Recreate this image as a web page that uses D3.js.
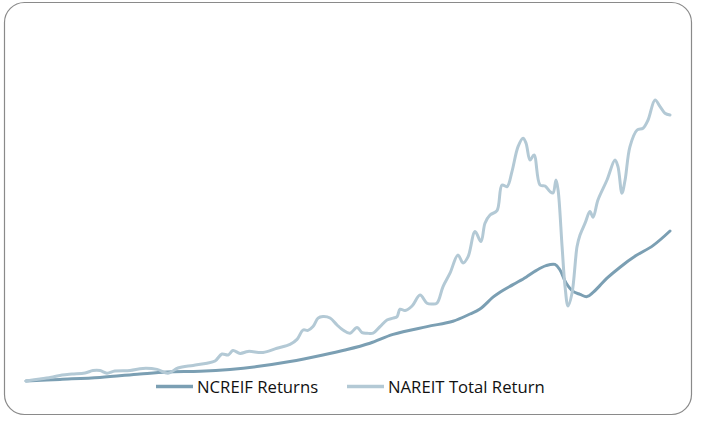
<!DOCTYPE html>
<html>
<head>
<meta charset="utf-8">
<script src="https://cdn.jsdelivr.net/npm/d3@7"></script>
<style>
  html, body { margin: 0; padding: 0; background: #ffffff; }
  svg { display: block; }
</style>
</head>
<body>
<svg id="chart" width="713" height="428"></svg>
<script>
// ---- Data (index values, start = 100) ----
const seriesNames = ["NCREIF Returns", "NAREIT Total Return"];

const ncreifYears = [1978.00, 1979.95, 1982.25, 1984.55, 1986.10, 1988.00, 1989.72, 1991.27, 1993.17, 1995.06,
  1996.33, 1997.76, 1999.09, 2001.04, 2002.53, 2003.51, 2004.08, 2004.83, 2005.23, 2005.98,
  2006.73, 2007.30, 2007.88, 2008.39, 2008.68, 2009.03, 2009.43, 2009.83, 2010.23, 2010.58,
  2010.98, 2011.38, 2012.13, 2013.05, 2014.02, 2015.00];
const ncreifValues = [100, 108, 118, 135, 145, 149, 158, 172, 197, 230,
  255, 289, 333, 372, 399, 435, 460, 519, 544, 582,
  619, 652, 677, 683, 655, 590, 548, 533, 522, 543,
  578, 614, 669, 727, 777, 850];

const nareitYears = [1978.00, 1978.80, 1979.55, 1980.07, 1980.64, 1981.39, 1981.85, 1982.25, 1982.65, 1983.11,
  1983.98, 1984.72, 1985.53, 1986.16, 1986.73, 1987.60, 1988.40, 1988.86, 1989.26, 1989.61,
  1989.89, 1990.30, 1990.76, 1991.62, 1992.42, 1993.17, 1993.57, 1993.92, 1994.20, 1994.49,
  1994.78, 1995.06, 1995.47, 1995.87, 1996.21, 1996.62, 1997.02, 1997.31, 1997.59, 1997.94,
  1998.34, 1998.74, 1999.09, 1999.32, 1999.49, 1999.78, 2000.18, 2000.64, 2001.04, 2001.33,
  2001.61, 2001.96, 2002.36, 2002.82, 2003.11, 2003.40, 2003.80, 2004.14, 2004.37, 2004.66,
  2005.06, 2005.35, 2005.64, 2005.92, 2006.27, 2006.56, 2006.73, 2006.96, 2007.19, 2007.53,
  2007.82, 2008.11, 2008.28, 2008.45, 2008.57, 2008.80, 2008.97, 2009.14, 2009.37, 2009.66,
  2009.83, 2010.12, 2010.40, 2010.58, 2010.86, 2011.38, 2011.84, 2012.01, 2012.24, 2012.42,
  2012.70, 2013.11, 2013.45, 2013.74, 2014.14, 2014.43, 2014.71, 2015.00];
const nareitValues = [100, 110, 120, 130, 135, 140, 152, 152, 139, 150,
  153, 163, 158, 139, 165, 178, 189, 200, 235, 230,
  252, 238, 248, 243, 264, 283, 308, 355, 353, 372,
  414, 422, 415, 380, 355, 339, 368, 342, 339, 339,
  372, 405, 414, 422, 459, 452, 475, 530, 489, 485,
  489, 572, 639, 730, 690, 722, 847, 797, 889, 930,
  952, 1080, 1072, 1147, 1272, 1314, 1289, 1205, 1230, 1080,
  1075, 1047, 1040, 1105, 1055, 772, 572, 475, 539, 772,
  830, 889, 947, 919, 1005, 1105, 1205, 1172, 1039, 1105,
  1272, 1355, 1364, 1405, 1505, 1472, 1439, 1430];

const colors = ["#7b9fb3", "#b3c9d5"];

// ---- Chart ----
const svg = d3.select("#chart");

svg.append("rect")
  .attr("x", 4.5).attr("y", 2.5)
  .attr("width", 687).attr("height", 412)
  .attr("rx", 20).attr("ry", 20)
  .attr("fill", "#ffffff")
  .attr("stroke", "#8a8a8a")
  .attr("stroke-width", 1.2);

const x = d3.scaleLinear().domain([1978, 2015]).range([26, 670]);
const y = d3.scaleLinear().domain([0, 1600]).range([401, 81]);

const line = d3.line()
  .x(d => x(d[0]))
  .y(d => y(d[1]))
  .curve(d3.curveCatmullRom.alpha(0.5));

const ncreif = ncreifYears.map((yr, i) => [yr, ncreifValues[i]]);
const nareit = nareitYears.map((yr, i) => [yr, nareitValues[i]]);

svg.append("path")
  .datum(ncreif)
  .attr("d", line)
  .attr("fill", "none")
  .attr("stroke", colors[0])
  .attr("stroke-width", 3)
  .attr("stroke-linejoin", "round")
  .attr("stroke-linecap", "round");

svg.append("path")
  .datum(nareit)
  .attr("d", line)
  .attr("fill", "none")
  .attr("stroke", colors[1])
  .attr("stroke-width", 3)
  .attr("stroke-linejoin", "round")
  .attr("stroke-linecap", "round");

// ---- Legend ----
const legendItems = [
  { name: seriesNames[0], color: colors[0], x0: 156 },
  { name: seriesNames[1], color: colors[1], x0: 347 }
];
const lg = svg.append("g");
legendItems.forEach(it => {
  lg.append("line")
    .attr("x1", it.x0).attr("x2", it.x0 + 37)
    .attr("y1", 386.5).attr("y2", 386.5)
    .attr("stroke", it.color)
    .attr("stroke-width", 3.5);
  lg.append("text")
    .attr("x", it.x0 + 41)
    .attr("y", 392.5)
    .attr("font-family", "'Open Sans', 'Liberation Sans', sans-serif")
    .attr("font-size", 16.7)
    .attr("fill", "#111")
    .text(it.name);
});
</script>
</body>
</html>
